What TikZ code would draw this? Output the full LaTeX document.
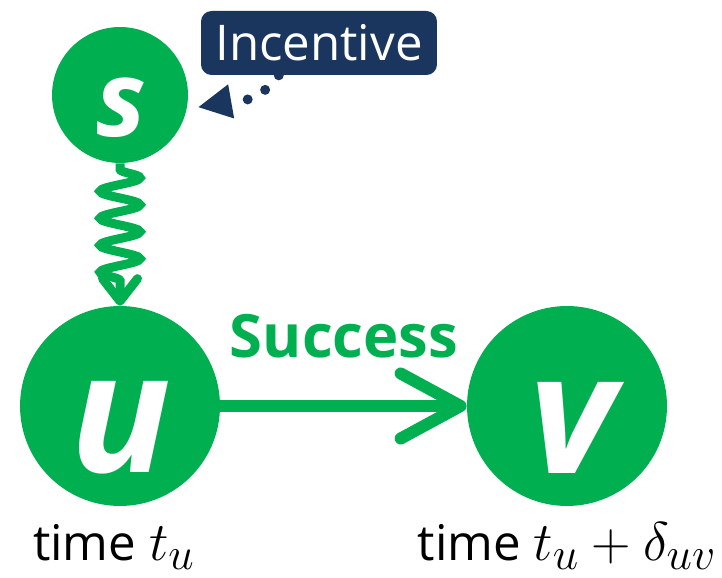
\documentclass[tikz,border=0pt]{standalone}
\usepackage{fontspec}
\setmainfont{Open Sans}
\usepackage{tikz}
\usetikzlibrary{arrows.meta, positioning, calc, decorations.pathmorphing}
\definecolor{mygreen}{RGB}{0,176,80}
\definecolor{mynavy}{RGB}{26,54,94}
\newcommand{\bigmath}[1]{\scalebox{1.25}{$#1$}}
\tikzset{
  bignode/.style={circle, fill=mygreen, minimum size=4cm, inner sep=0pt},
  smallnode/.style={circle, fill=mygreen, minimum size=2.72cm, inner sep=0pt},
  bigletter/.style={text=white, inner sep=0pt,
    font=\fontsize{95}{95}\selectfont\bfseries\itshape},
  smallletter/.style={text=white, inner sep=0pt,
    font=\fontsize{60}{60}\selectfont\bfseries\itshape},
  tagbox/.style={rectangle, fill=mynavy, text=white, rounded corners=6pt,
    minimum width=4.72cm, minimum height=1.28cm, inner sep=0pt,
    font=\fontsize{28}{28}\selectfont},
  successlabel/.style={text=mygreen, inner sep=0pt,
    font=\fontsize{34}{34}\selectfont\bfseries},
  timelabel/.style={anchor=base, inner sep=0pt,
    font=\fontsize{28}{28}\selectfont},
  dotarrow/.style={draw=mynavy, line width=0.2cm, line cap=round,
    dash pattern=on 0pt off 0.4cm, shorten >=0.22cm,
    -{Triangle[length=0.68cm, width=0.64cm]}},
  snakearrow/.style={draw=mygreen, line width=0.18cm, decorate,
    decoration={snake, segment length=0.54cm, amplitude=0.4cm,
      pre length=0.12cm, post length=0.45cm},
    -{Straight Barb[length=0.45cm, width=0.7cm, round]}},
  successarrow/.style={draw=mygreen, line width=0.24cm,
    -{Straight Barb[length=1.2cm, width=1.3cm, round]}}
}
\begin{document}
\begin{tikzpicture}[x=0.02cm, y=0.02cm]
  \useasboundingbox (0,0) rectangle (722,577);

  % ── Nodes s, u, v ──────────────────────────────────────────────────
  \node[smallnode] (s) at (120,482) {};
  \node[bignode]   (u) at (120,171) {};
  \node[bignode]   (v) at (567,171) {};
  \node[smallletter] (slbl) at (121,469) {s};
  \node[bigletter]   (ulbl) at (121,149) {u};
  \node[bigletter]   (vlbl) at (572,149) {v};

  % ── Incentive tag ──────────────────────────────────────────────────
  \node[tagbox] (inc) at (319,534) {Incentive};
  \coordinate (incfoot) at ($(inc.south west)!0.33!(inc.south east)$);
  \draw[dotarrow] (incfoot) to[out=235, in=10] (s.-12);

  % ── Connectors ─────────────────────────────────────────────────────
  \draw[snakearrow] (s) -- (u);
  \draw[successarrow] (u) -- (v);
  \node[successlabel] (succ) at (344,241) {Success};

  % ── Time labels ────────────────────────────────────────────────────
  \node[timelabel] (tu) at (114,16) {time \bigmath{t_u}};
  \node[timelabel] (tv) at (567,16) {time \bigmath{t_u+\delta_{uv}}};
\end{tikzpicture}
\end{document}
